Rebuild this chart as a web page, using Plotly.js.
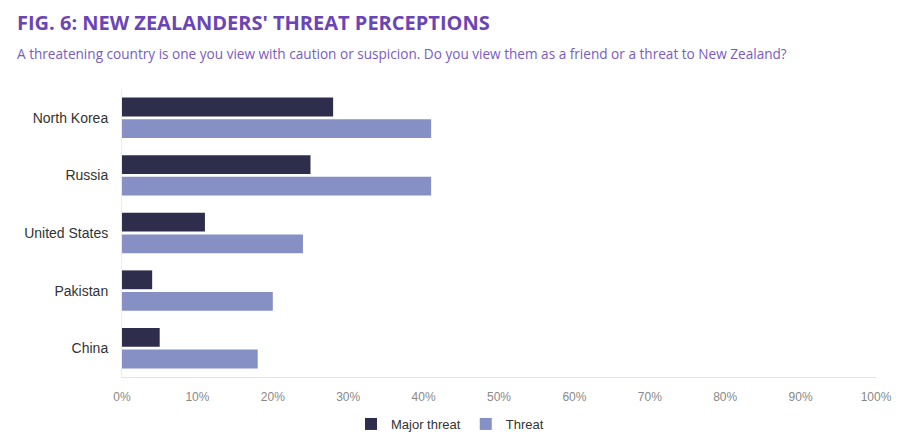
<!DOCTYPE html>
<html>
<head>
<meta charset="utf-8">
<script src="https://cdn.plot.ly/plotly-3.0.1.min.js"></script>
<style>
  html, body { margin: 0; padding: 0; background: #fff; }
  #chart { width: 916px; height: 443px; }
</style>
</head>
<body>
<div id="chart"></div>
<script>
// countries, top to bottom
var countries = ["North Korea", "Russia", "United States", "Pakistan", "China"];
var majorThreat = [28, 25, 11, 4, 5];
var threat = [41, 41, 24, 20, 18];
var tickVals = [0, 10, 20, 30, 40, 50, 60, 70, 80, 90, 100];
var tickText = tickVals.map(function (v) { return v + '%'; });

var titleText = "FIG. 6: NEW ZEALANDERS' THREAT PERCEPTIONS";
var subText = "A threatening country is one you view with caution or suspicion. Do you view them as a friend or a threat to New Zealand?";

var major = {
    y: countries,
    x: majorThreat,
    name: 'Major threat',
    type: 'bar',
    orientation: 'h',
    marker: {color: '#2e2d4c'},
    hoverinfo: 'x+y'
};

var thr = {
    y: countries,
    x: threat,
    name: 'Threat',
    type: 'bar',
    orientation: 'h',
    marker: {color: '#8690c4'},
    hoverinfo: 'x+y'
};

var layout = {
    width: 916,
    height: 443,
    margin: {l: 122, r: 40, t: 89, b: 66},
    paper_bgcolor: '#fff',
    plot_bgcolor: '#fff',
    barmode: 'group',
    bargap: 0.25,
    bargroupgap: 0.13,
    showlegend: true,
    legend: {
        orientation: 'h',
        xref: 'container', yref: 'container',
        x: 450 / 916, xanchor: 'center',
        y: 19 / 443, yanchor: 'middle',
        font: {family: 'Liberation Sans, Arial, sans-serif', size: 13, color: '#333'},
        traceorder: 'normal'
    },
    xaxis: {
        range: [0, 100],
        tickvals: tickVals,
        ticktext: tickText,
        showgrid: false,
        zeroline: false,
        showline: true,
        linecolor: '#e3e3e3',
        linewidth: 1,
        ticks: 'outside',
        ticklen: 9,
        tickcolor: 'rgba(0,0,0,0)',
        tickfont: {family: 'Liberation Sans, Arial, sans-serif', size: 12, color: '#888'},
        fixedrange: true
    },
    yaxis: {
        autorange: 'reversed',
        showgrid: false,
        zeroline: false,
        showline: true,
        linecolor: '#ececec',
        ticks: 'outside',
        ticklen: 10,
        tickcolor: 'rgba(0,0,0,0)',
        tickfont: {family: 'Liberation Sans, Arial, sans-serif', size: 14, color: '#333'},
        fixedrange: true
    },
    annotations: [
        {
            text: '<b>' + titleText + '</b>',
            xref: 'paper', yref: 'paper',
            x: -0.142, xanchor: 'left',
            y: 1.2326, yanchor: 'middle',
            showarrow: false,
            font: {family: 'Open Sans, sans-serif', size: 20, color: '#6a45b6'}
        },
        {
            text: subText,
            xref: 'paper', yref: 'paper',
            x: -0.142, xanchor: 'left',
            y: 1.125, yanchor: 'middle',
            showarrow: false,
            font: {family: 'Open Sans, sans-serif', size: 13.6, color: '#7a5bc2'}
        }
    ]
};

Plotly.newPlot('chart', [major, thr], layout, {displayModeBar: false});
</script>
</body>
</html>
